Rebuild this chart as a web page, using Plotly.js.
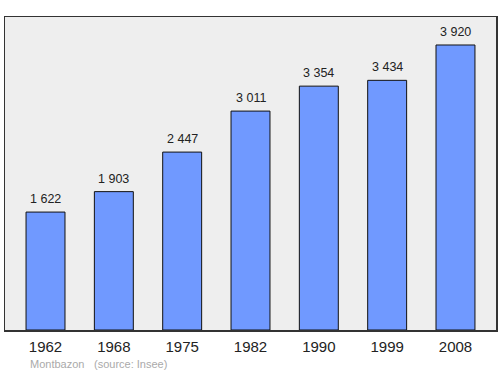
<!DOCTYPE html>
<html>
<head>
<meta charset="utf-8">
<script src="https://cdn.plot.ly/plotly-3.0.1.min.js"></script>
<style>html,body{margin:0;padding:0;background:#fff;}#chart{width:500px;height:374px;}</style>
</head>
<body>
<div id="chart"></div>
<script>
const years = ["1962", "1968", "1975", "1982", "1990", "1999", "2008"];
const population = [1622, 1903, 2447, 3011, 3354, 3434, 3920];
const valueLabels = ["1 622", "1 903", "2 447", "3 011", "3 354", "3 434", "3 920"];
const commune = "Montbazon";
const source = "(source: Insee)";

const FONT = "Liberation Sans, Arial, sans-serif";

const annotations = years.map((y, i) => ({
  x: i, y: population[i], xref: 'x', yref: 'y',
  text: valueLabels[i], showarrow: false,
  yanchor: 'bottom', yshift: 4,
  font: {family: FONT, size: 12.5, color: '#222'}
}));
annotations.push({
  xref: 'paper', yref: 'paper', x: 0.047, y: -0.11, xanchor: 'left', yanchor: 'middle',
  text: commune, showarrow: false, font: {family: FONT, size: 11, color: '#aaa'}
});
annotations.push({
  xref: 'paper', yref: 'paper', x: 0.177, y: -0.11, xanchor: 'left', yanchor: 'middle',
  text: source, showarrow: false, font: {family: FONT, size: 11, color: '#aaa'}
});

const data = [{
  type: 'bar', x: years, y: population, width: 0.57,
  marker: {color: '#7099ff', line: {color: '#111', width: 1}},
  hoverinfo: 'none'
}];

const layout = {
  width: 500, height: 374,
  margin: {l: 5, r: 4, t: 17, b: 44, pad: 0},
  paper_bgcolor: '#ffffff', plot_bgcolor: '#eeeeee',
  showlegend: false,
  xaxis: {
    type: 'category', range: [-0.593, 6.593],
    showgrid: false, zeroline: false,
    showline: true, mirror: true, linecolor: '#333', linewidth: 1.5,
    ticks: '', ticklabelstandoff: 2,
    tickfont: {family: FONT, size: 15, color: '#222'}
  },
  yaxis: {
    range: [0, 4305], showgrid: false, zeroline: false,
    showline: true, mirror: true, linecolor: '#333', linewidth: 1.5,
    showticklabels: false, ticks: ''
  },
  annotations: annotations
};

Plotly.newPlot('chart', data, layout, {displayModeBar: false, staticPlot: true});
</script>
</body>
</html>
